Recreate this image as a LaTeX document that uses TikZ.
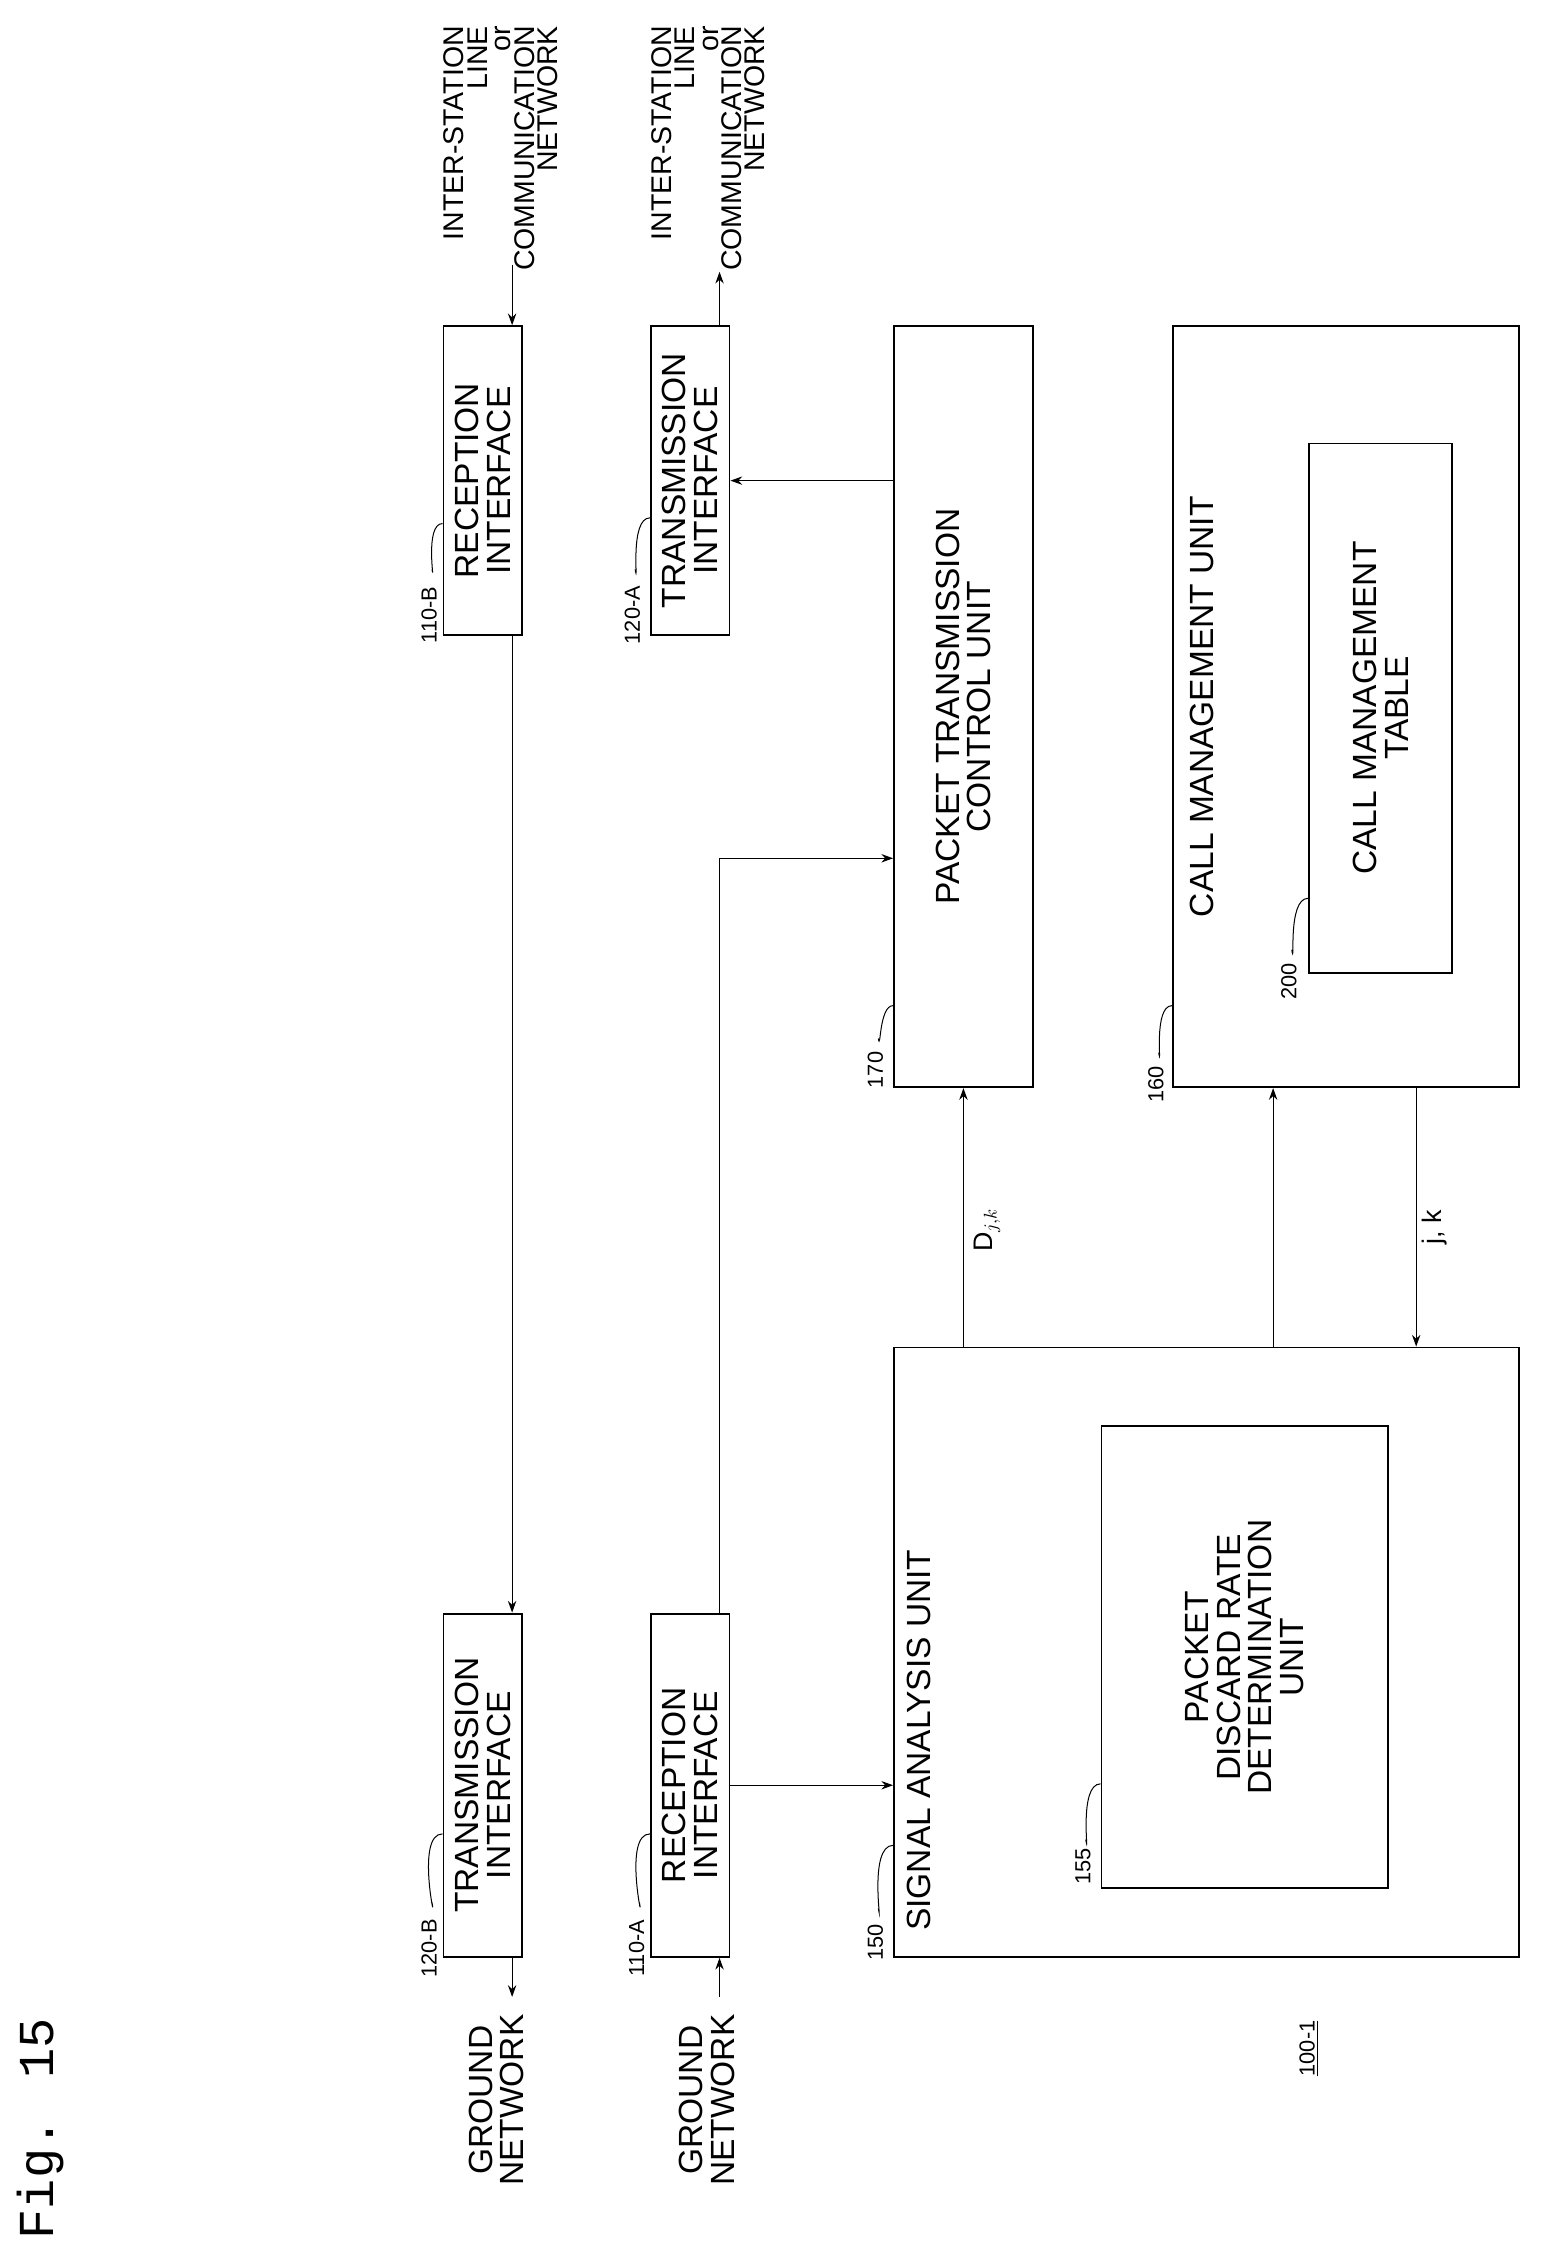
\documentclass[tikz,border=0pt]{standalone}
\usepackage{fontspec}
\setmainfont{Liberation Sans}
\newfontfamily\figfont{Liberation Mono}
\usetikzlibrary{positioning}
\usetikzlibrary{calc}
\usetikzlibrary{arrows.meta}

\begin{document}
\begin{tikzpicture}[x=0.03cm, y=-0.03cm,
    box/.style={draw, line width=1.1pt, minimum width=1.65cm, inner sep=0pt},
    txt/.style={rotate=90, align=center, font=\fontsize{20}{19}\selectfont, inner sep=0pt},
    net/.style={rotate=90, align=right, font=\fontsize{17}{14}\selectfont, inner sep=0pt},
    ref/.style={rotate=90, font=\fontsize{13}{14}\selectfont, inner sep=1pt},
    conn/.style={line width=0.7pt, -{Stealth[length=7pt,width=5pt]}},
    lead/.style={line width=0.6pt}]

    \useasboundingbox (0,0) rectangle (1084,1575);

    \node[rotate=90, font=\figfont\fontsize{30}{30}\selectfont] (fig) at (28,1488) {Fig. 15};

    % boxes
    \node[box, minimum height=7.2cm] (txb) at (337.5,1248) {};
    \node[box, minimum height=7.2cm] (rxa) at (482.5,1248) {};
    \node[box, minimum height=6.48cm] (rxb) at (337.5,336) {};
    \node[box, minimum height=6.48cm] (txa) at (482.5,336) {};
    \node[box, minimum width=13.11cm, minimum height=12.78cm] (sau) at (843.5,1155) {};
    \node[box, minimum width=6cm, minimum height=9.69cm] (pdr) at (870,1158.5) {};
    \node[box, minimum width=2.91cm, minimum height=15.96cm] (ptc) at (673.5,494) {};
    \node[box, minimum width=7.26cm, minimum height=15.96cm] (cmu) at (941,494) {};
    \node[box, minimum width=3cm, minimum height=11.1cm] (cmt) at (965,495) {};

    % texts
    \node[txt] (txbt) at (txb.center) {TRANSMISSION\\INTERFACE};
    \node[txt] (rxat) at (rxa.center) {RECEPTION\\INTERFACE};
    \node[txt] (rxbt) at (rxb.center) {RECEPTION\\INTERFACE};
    \node[txt] (txat) at (txa.center) {TRANSMISSION\\INTERFACE};
    \node[txt, anchor=north west] (saut) at (634,1350) {SIGNAL ANALYSIS UNIT};
    \node[txt] (pdrt) at (pdr.center) {PACKET\\DISCARD RATE\\DETERMINATION\\UNIT};
    \node[txt] (ptct) at (ptc.center) {PACKET TRANSMISSION\\CONTROL UNIT};
    \node[txt] (cmut) at (840,494) {CALL MANAGEMENT UNIT};
    \node[txt] (cmtt) at (cmt.center) {CALL MANAGEMENT\\TABLE};

    \node[txt, anchor=east] (gnbt) at (347,1408) {GROUND\\NETWORK};
    \node[txt, anchor=east] (gnat) at (494,1408) {GROUND\\NETWORK};
    \node[net, anchor=north east] (isl1) at (310,18) {INTER-STATION\\LINE\\or\hspace{3.6em}\\COMMUNICATION\\NETWORK};
    \node[net, anchor=north east] (isl2) at (455,18) {INTER-STATION\\LINE\\or\hspace{3.6em}\\COMMUNICATION\\NETWORK};

    % connectors
    \coordinate (inB) at (358,185);
    \coordinate (outA) at (503,190);
    \coordinate (gnB) at (358,1396);
    \coordinate (gnA) at (503,1396);
    \coordinate (bend) at (503,600);
    \coordinate (up1) at (890,0);
    \coordinate (dn1) at (990,0);

    \draw[conn] (inB) -- (inB |- rxb.north);
    \draw[conn] (inB |- rxb.south) -- (inB |- txb.north);
    \draw[conn] (inB |- txb.south) -- (gnB);
    \draw[conn] (gnA) -- (gnA |- rxa.south);
    \draw[conn] (outA |- txa.north) -- (outA);
    \draw[conn] (bend |- rxa.north) -- (bend) -- (bend -| ptc.west);
    \draw[conn] (ptc.west |- txa.east) -- (txa.east);
    \draw[conn] (rxa.east) -- (rxa.east -| sau.west);
    \draw[conn] (ptc.south |- sau.north) -- (ptc.south);
    \draw[conn] (up1 |- sau.north) -- (up1 |- cmu.south);
    \draw[conn] (dn1 |- cmu.south) -- (dn1 |- sau.north);

    \node[ref, font=\fontsize{16}{16}\selectfont] (dlab) at (690,860) {D$_{j,k}$};
    \node[ref, font=\fontsize{16}{16}\selectfont] (jlab) at (1003,858) {j, k};

    % reference numerals
    \node[ref] (r120b) at (300,1362) {120-B};
    \draw[lead] (302,1330) to[out=-80, in=180] (txb.west |- 0,1282);
    \node[ref] (r110a) at (445,1362) {110-A};
    \draw[lead] (447,1330) to[out=-80, in=180] (rxa.west |- 0,1282);
    \node[ref] (r150) at (612,1358) {150};
    \draw[lead] (614,1334) to[out=-80, in=180] (sau.west |- 0,1290);
    \node[ref] (r155) at (757,1305) {155};
    \draw[lead] (759,1286) to[out=-80, in=180] (pdr.west |- 0,1247);
    \node[ref] (r110b) at (300,430) {110-B};
    \draw[lead] (302,398) to[out=-80, in=180] (rxb.west |- 0,366);
    \node[ref] (r120a) at (442,430) {120-A};
    \draw[lead] (444,398) to[out=-80, in=180] (txa.west |- 0,362);
    \node[ref] (r170) at (612,748) {170};
    \draw[lead] (614,726) to[out=-80, in=180] (ptc.west |- 0,703);
    \node[ref] (r160) at (808,758) {160};
    \draw[lead] (810,736) to[out=-80, in=180] (cmu.west |- 0,703);
    \node[ref] (r200) at (901,686) {200};
    \draw[lead] (903,664) to[out=-80, in=180] (cmt.west |- 0,628);
    \node[ref] (r100) at (915,1432) {\underline{100-1}};

\end{tikzpicture}
\end{document}
